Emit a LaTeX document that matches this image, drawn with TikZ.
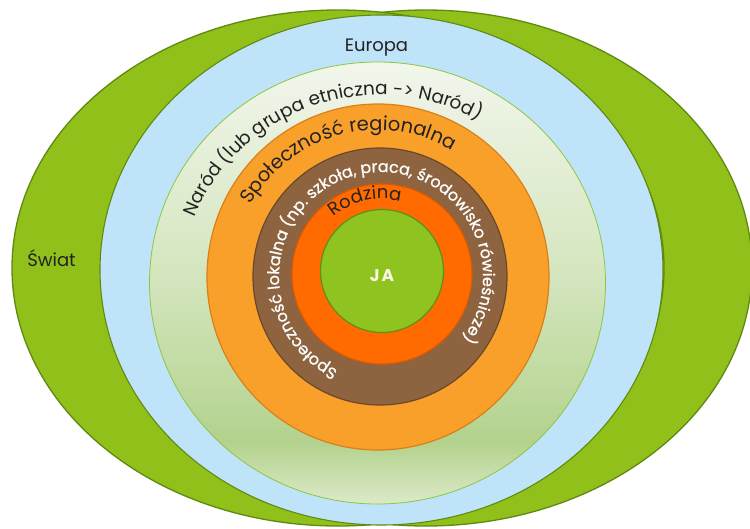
\documentclass[tikz,border=0pt]{standalone}
\usepackage{fontspec}
\setmainfont{Poppins}
\newfontfamily\popfb{Poppins}[FakeBold=0.9]
\usetikzlibrary{decorations.text}
\definecolor{wgreen}{HTML}{92C01A}
\definecolor{wdark}{HTML}{5E8A10}
\definecolor{eblue}{HTML}{BFE4F9}
\definecolor{lgtop}{HTML}{F2F6EC}
\definecolor{lgmid}{HTML}{D3E5BC}
\definecolor{lgdark}{HTML}{B3D28D}
\definecolor{lgbot}{HTML}{DCEAC8}
\definecolor{lgline}{HTML}{8DC63F}
\definecolor{rorange}{HTML}{F9A02A}
\definecolor{rorangeb}{HTML}{D9801A}
\definecolor{lbrown}{HTML}{8E633F}
\definecolor{lbrownb}{HTML}{6A4728}
\definecolor{fred}{HTML}{FF6B00}
\definecolor{fredb}{HTML}{DB5A00}
\definecolor{jagreen}{HTML}{8FC31F}
\definecolor{jagreenb}{HTML}{5E8F17}
\definecolor{txtdark}{HTML}{222222}
\definecolor{jatext}{HTML}{FAF7E4}
\pgfdeclareverticalshading{narshade}{100bp}{color(0bp)=(lgbot); color(25bp)=(lgbot); color(32bp)=(lgdark); color(50bp)=(lgmid); color(75bp)=(lgtop); color(100bp)=(lgtop)}
\tikzset{
  greenring/.style={fill=wgreen, draw=wdark, line width=1.3pt},
  arctext/.style={decorate, decoration={text along path, text align=center, text color=txtdark}},
  label/.style={text=txtdark, inner sep=0pt}
}
\begin{document}
\begin{tikzpicture}[x=1pt,y=-1pt]
\useasboundingbox (0,0) rectangle (750,528);
\fill[white] (0,0) rectangle (750,528);
% world: two overlapping ellipses
\draw[greenring] (426,268) ellipse[x radius=326, y radius=258];
\draw[greenring] (338,268) ellipse[x radius=326, y radius=258];
% Europe
\draw[fill=eblue, draw=wdark, line width=1.1pt] (381.5,270) ellipse[x radius=281.5, y radius=255];
% nation
\shade[shading=narshade, draw=lgline, line width=0.8pt] (377.5,283) ellipse[x radius=228, y radius=221];
% regional
\draw[fill=rorange, draw=rorangeb, line width=1.2pt] (378,277) ellipse[x radius=171, y radius=173];
% local
\draw[fill=lbrown, draw=lbrownb, line width=1.2pt] (380,276.5) ellipse[x radius=127, y radius=128.5];
% family
\draw[fill=fred, draw=fredb, line width=1.2pt] (382,274) circle[radius=90];
% me
\draw[fill=jagreen, draw=jagreenb, line width=1.2pt] (382,271) circle[radius=61.5];

% labels
\node[label, anchor=base, font=\fontsize{18}{20}\selectfont] (europa) at (376.5,51) {Europa};
\node[label, anchor=base, font=\fontsize{18}{20}\selectfont] (swiat) at (51.5,266) {Świat};
\node[text=jatext, inner sep=0pt, anchor=base, font=\fontsize{17}{19}\selectfont\bfseries] (ja) at (382,281) {J\kern2pt A};

\path[arctext, decoration={text={|\fontsize{18.5}{20}\selectfont|Naród (lub grupa etniczna -> Naród)}}]
  (380,285) ++(170:198 and 190) arc[start angle=170, end angle=330, x radius=198, y radius=190];
\path[arctext, decoration={text={|\fontsize{19.5}{21}\selectfont|Społeczność regionalna}}]
  (378,277) ++(185:146 and 147) arc[start angle=185, end angle=325, x radius=146, y radius=147];
\path[arctext, decoration={text color=white, text={|\popfb\fontsize{16}{18}\selectfont|Społeczność lokalna (np.  szkoła, praca, środowisko rówieśnicze)}}]
  (381,276) ++(96:102 and 104) arc[start angle=96, end angle=416, x radius=102, y radius=104];
\path[arctext, decoration={text={|\fontsize{18}{20}\selectfont|Rodzina}}]
  (382,274) ++(198:75 and 75) arc[start angle=198, end angle=316, x radius=75, y radius=75];
\end{tikzpicture}
\end{document}
